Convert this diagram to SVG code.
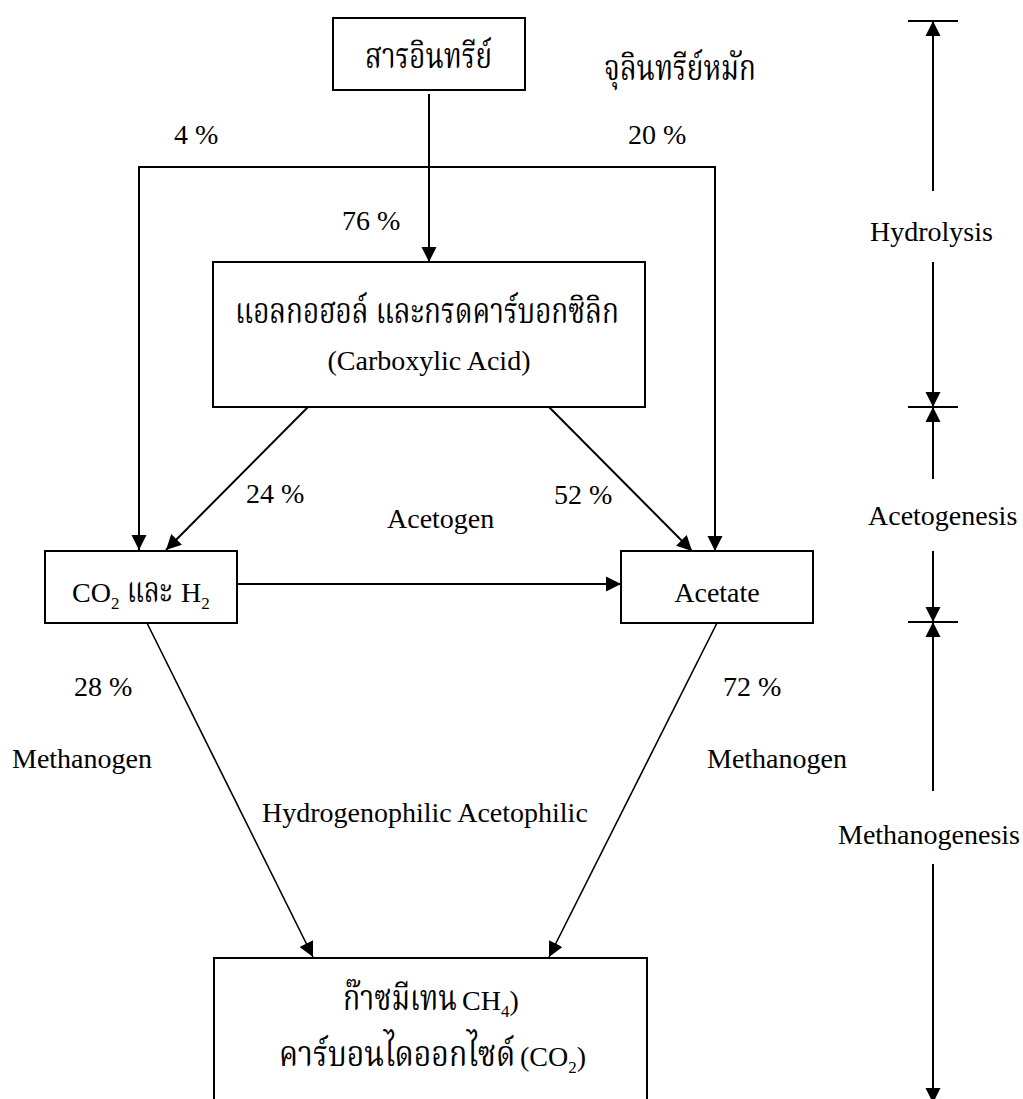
<svg xmlns="http://www.w3.org/2000/svg" width="1023" height="1099" viewBox="0 0 1023 1099">
<style>
.box{fill:#fff;stroke:#000;stroke-width:2}
.ln{fill:none;stroke:#000;stroke-width:2}
.dl{fill:none;stroke:#000;stroke-width:1.6}
.en{font-family:"Liberation Serif","Times New Roman",serif;font-size:28px;fill:#000}
.sub{font-size:17px}
.th{font-family:"Noto Serif Thai","Noto Sans Thai","Liberation Serif",serif;font-size:35px;fill:#000}
</style>
<defs>
<marker id="ah" markerUnits="userSpaceOnUse" markerWidth="16" markerHeight="16" viewBox="0 0 16 16" refX="15" refY="8" orient="auto">
<path d="M0,0.5 L15,8 L0,15.5 Z" fill="#000"/>
</marker>
</defs>
<rect width="1023" height="1099" fill="#fff"/>

<g id="connectors">
<path class="ln" d="M429,94 V262" marker-end="url(#ah)"/>
<path class="ln" d="M429,167 H139 V550" marker-end="url(#ah)"/>
<path class="ln" d="M429,167 H715 V551" marker-end="url(#ah)"/>
<path class="ln" d="M308,407 L166,550" marker-end="url(#ah)"/>
<path class="ln" d="M549,407 L692,551" marker-end="url(#ah)"/>
<path class="ln" d="M237,584 H621" marker-end="url(#ah)"/>
<path class="dl" d="M147,623 L313,957" marker-end="url(#ah)"/>
<path class="dl" d="M717,623 L549,957" marker-end="url(#ah)"/>
</g>

<g id="node-organic">
<rect class="box" x="333" y="18" width="192" height="72"/>
<text class="th" x="365" y="68" textLength="127" lengthAdjust="spacingAndGlyphs">สารอินทรีย์</text>
</g>

<g id="node-acids">
<rect class="box" x="213" y="262" width="432" height="145"/>
<text class="th" x="235" y="323" textLength="384" lengthAdjust="spacingAndGlyphs">แอลกอฮอล์ และกรดคาร์บอกซิลิก</text>
<text class="en" x="429" y="370" text-anchor="middle">(Carboxylic Acid)</text>
</g>

<g id="node-co2h2">
<rect class="box" x="45" y="551" width="192" height="72"/>
<text class="en" x="72" y="602">CO<tspan class="sub" dy="7">2</tspan></text>
<text class="th" transform="translate(127,602) scale(0.75,1)" textLength="60" lengthAdjust="spacingAndGlyphs">และ</text>
<text class="en" x="181" y="602">H<tspan class="sub" dy="7">2</tspan></text>
</g>

<g id="node-acetate">
<rect class="box" x="621" y="551" width="192" height="72"/>
<text class="en" x="717" y="602" text-anchor="middle">Acetate</text>
</g>

<g id="node-methane">
<rect class="box" x="214" y="958" width="433" height="160"/>
<text class="th" transform="translate(343,1010) scale(0.75,1)" textLength="152" lengthAdjust="spacingAndGlyphs">ก๊าซมีเทน</text>
<text class="en" x="462" y="1010">CH<tspan class="sub" dy="7">4</tspan><tspan dy="-7">)</tspan></text>
<text class="th" transform="translate(279,1066) scale(0.75,1)" textLength="315" lengthAdjust="spacingAndGlyphs">คาร์บอนไดออกไซด์</text>
<text class="en" x="520" y="1066">(CO<tspan class="sub" dy="7">2</tspan><tspan dy="-7">)</tspan></text>
</g>

<g id="labels">
<text class="th" x="604" y="80" textLength="152" lengthAdjust="spacingAndGlyphs">จุลินทรีย์หมัก</text>
<text class="en" x="174" y="144">4 %</text>
<text class="en" x="628" y="144">20 %</text>
<text class="en" x="342" y="230">76 %</text>
<text class="en" x="246" y="503">24 %</text>
<text class="en" x="554" y="504">52 %</text>
<text class="en" x="387" y="528">Acetogen</text>
<text class="en" x="74" y="696">28 %</text>
<text class="en" x="723" y="696">72 %</text>
<text class="en" x="12" y="768">Methanogen</text>
<text class="en" x="707" y="768">Methanogen</text>
<text class="en" x="262" y="822">Hydrogenophilic Acetophilic</text>
</g>

<g id="stage-scale">
<path class="ln" d="M908,21 H958 M908,407 H958 M908,622 H958"/>
<path class="ln" d="M933,191 V21" marker-end="url(#ah)"/>
<path class="ln" d="M933,262 V407" marker-end="url(#ah)"/>
<path class="ln" d="M933,479 V407" marker-end="url(#ah)"/>
<path class="ln" d="M933,551 V622" marker-end="url(#ah)"/>
<path class="ln" d="M933,791 V622" marker-end="url(#ah)"/>
<path class="ln" d="M933,864 V1103" marker-end="url(#ah)"/>
<text class="en" x="870" y="241">Hydrolysis</text>
<text class="en" x="868" y="525">Acetogenesis</text>
<text class="en" x="838" y="844">Methanogenesis</text>
</g>
</svg>
